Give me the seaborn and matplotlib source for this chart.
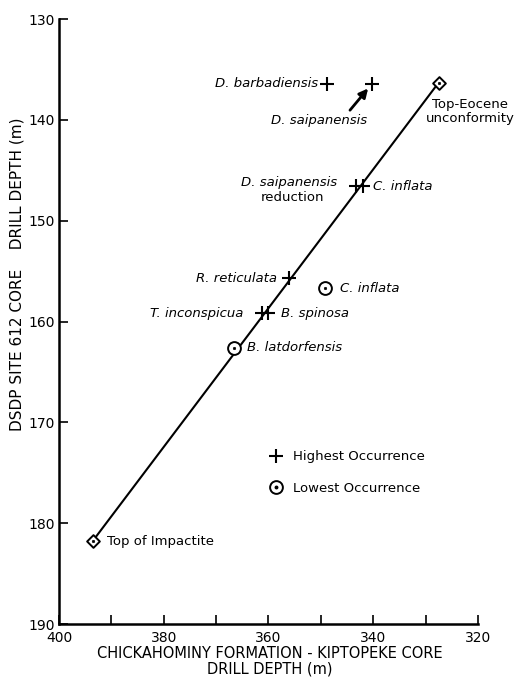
import matplotlib
matplotlib.use("Agg")
import matplotlib.pyplot as plt
from matplotlib.lines import Line2D
from matplotlib.legend_handler import HandlerTuple
import seaborn as sns
import pandas as pd

# ---- data ----
highest_names = ["D. barbadiensis", "D. saipanensis", "D. saipanensis reduction",
                 "C. inflata", "R. reticulata", "T. inconspicua", "B. spinosa"]
highest_x = [348.9, 340.2, 343.2, 341.9, 356.1, 361.3, 360.1]
highest_y = [136.4, 136.4, 146.6, 146.6, 155.7, 159.2, 159.2]

lowest_names = ["C. inflata", "B. latdorfensis"]
lowest_x = [349.2, 366.5]
lowest_y = [156.7, 162.6]

datum_names = ["Top-Eocene\nunconformity", "Top of Impactite"]
datum_x = [327.5, 393.6]
datum_y = [136.3, 181.8]

x_ticks = [400, 380, 360, 340, 320]
x_minor = [390, 370, 350, 330]
y_ticks = [130, 140, 150, 160, 170, 180, 190]

hi = pd.DataFrame({"name": highest_names, "x": highest_x, "y": highest_y})
lo = pd.DataFrame({"name": lowest_names, "x": lowest_x, "y": lowest_y})
dt = pd.DataFrame({"name": datum_names, "x": datum_x, "y": datum_y})

sns.set_style("ticks")
plt.rcParams["font.family"] = ["DejaVu Sans"]
plt.rcParams["text.color"] = "black"
plt.rcParams["axes.labelcolor"] = "black"
plt.rcParams["xtick.color"] = "black"
plt.rcParams["ytick.color"] = "black"

fig = plt.figure(figsize=(5.16, 6.77), dpi=100)
ax = fig.add_axes([59 / 516, 1 - 624 / 677, (478 - 59) / 516, (624 - 19) / 677])

FS = 9.5

# correlation line
sns.lineplot(data=dt, x="x", y="y", sort=False, estimator=None, color="black",
             linewidth=1.5, ax=ax, zorder=1)

# datum diamonds
sns.scatterplot(data=dt, x="x", y="y", marker="D", s=42, color="white",
                edgecolor="black", linewidth=1.4, ax=ax, zorder=3)
sns.scatterplot(data=dt, x="x", y="y", marker="o", s=3, color="black",
                edgecolor="black", linewidth=0.5, ax=ax, zorder=4)

# highest occurrences
sns.scatterplot(data=hi, x="x", y="y", marker="+", s=115, color="black",
                linewidth=1.5, ax=ax, zorder=3)

# lowest occurrences
sns.scatterplot(data=lo, x="x", y="y", marker="o", s=85, color="white",
                edgecolor="black", linewidth=1.4, ax=ax, zorder=3)
sns.scatterplot(data=lo, x="x", y="y", marker="o", s=3, color="black",
                edgecolor="black", linewidth=0.5, ax=ax, zorder=4)

# ---- labels (offsets in points) ----
def lab(txt, xy, dx, dy, ha="left", va="center", italic=True, **kw):
    ax.annotate(txt, xy=xy, xytext=(dx, dy), textcoords="offset points",
                ha=ha, va=va, fontsize=FS, color="black",
                style="italic" if italic else "normal", **kw)

lab("D. barbadiensis", (hi.x[0], hi.y[0]), -6.3, 0, ha="right")
lab("D. saipanensis", (hi.x[1], hi.y[1]), -38.4, -26.4, ha="center")
ax.annotate("", xy=(hi.x[1], hi.y[1]), xytext=(-16, -19.2),
            textcoords="offset points",
            arrowprops=dict(arrowstyle="-|>", color="black", lw=2.0,
                            shrinkA=0, shrinkB=4.6, mutation_scale=13))
lab("D. saipanensis", (hi.x[2], hi.y[2]), -13.9, 3.1, ha="right")
lab("reduction", (hi.x[2], hi.y[2]), -45.9, -7.7, ha="center", italic=False)
lab("C. inflata", (hi.x[3], hi.y[3]), 7.0, 0)
lab("R. reticulata", (hi.x[4], hi.y[4]), -8.9, 0, ha="right")
lab("T. inconspicua", (hi.x[5], hi.y[5]), -13.2, 0, ha="right")
lab("B. spinosa", (hi.x[6], hi.y[6]), 9.6, 0)
lab("C. inflata", (lo.x[0], lo.y[0]), 10.8, 0)
lab("B. latdorfensis", (lo.x[1], lo.y[1]), 8.9, 0)
lab(datum_names[0], (dt.x[0], dt.y[0]), 22.8, -21.0, ha="center", italic=False,
    multialignment="center", linespacing=1.1)
lab(datum_names[1], (dt.x[1], dt.y[1]), 10.4, 0, italic=False)

# ---- legend ----
h_plus = Line2D([], [], marker="+", color="black", linestyle="none",
                markersize=10.5, markeredgewidth=1.5)
h_circ = Line2D([], [], marker="o", markerfacecolor="white", markeredgecolor="black",
                linestyle="none", markersize=9.2, markeredgewidth=1.4)
h_dot = Line2D([], [], marker="o", color="black", linestyle="none", markersize=1.8)
leg = ax.legend([h_plus, (h_circ, h_dot)], ["Highest Occurrence", "Lowest Occurrence"],
                handler_map={tuple: HandlerTuple(ndivide=1)},
                loc="upper left", bbox_to_anchor=(0.501, 0.287), frameon=False,
                fontsize=FS, handlelength=1.0, handletextpad=0.8, borderpad=0,
                borderaxespad=0, labelspacing=1.4)
for t in leg.get_texts():
    t.set_color("black")

# ---- axes ----
ax.set_xlim(400, 320)
ax.set_ylim(190, 130)
ax.set_xticks(x_ticks)
ax.set_xticks(x_minor, minor=True)
ax.set_yticks(y_ticks)
ax.tick_params(axis="both", which="both", direction="in", length=6.5, width=1.2,
               colors="black", labelsize=10)
ax.tick_params(axis="x", pad=5)
ax.tick_params(axis="y", pad=3)
for s in ["top", "right"]:
    ax.spines[s].set_visible(False)
for s in ["left", "bottom"]:
    ax.spines[s].set_linewidth(1.8)
    ax.spines[s].set_color("black")

ax.set_xlabel("CHICKAHOMINY FORMATION - KIPTOPEKE CORE\nDRILL DEPTH (m)",
              fontsize=10.5, linespacing=1.1, color="black")
ax.xaxis.set_label_coords(0.504, -0.036)
ax.set_ylabel("DSDP SITE 612 CORE    DRILL DEPTH (m)", fontsize=11, color="black")
ax.yaxis.set_label_coords(-0.083, 0.578)

fig.savefig("out.png", dpi=100, facecolor="white")
